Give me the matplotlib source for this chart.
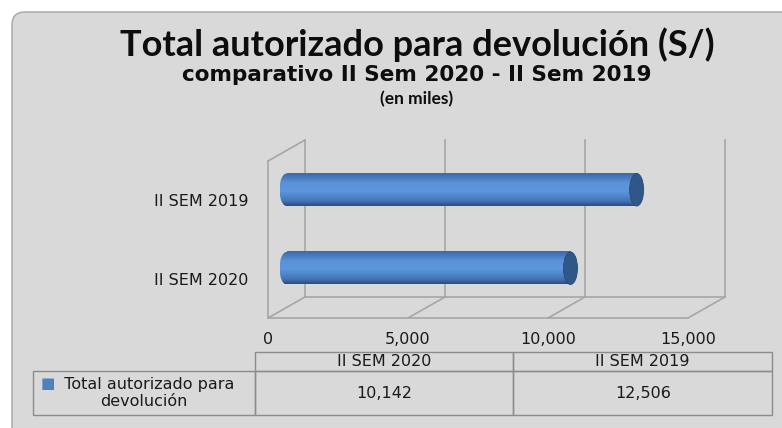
import numpy as np
import matplotlib
matplotlib.use("Agg")
import matplotlib.pyplot as plt
from matplotlib.patches import FancyBboxPatch, Ellipse, ConnectionPatch
from matplotlib.colors import LinearSegmentedColormap
from matplotlib.transforms import ScaledTranslation
from matplotlib.table import Table
from matplotlib.ticker import FuncFormatter

# data
categories = ["II SEM 2020", "II SEM 2019"]
values = [10142, 12506]
series_name = "Total autorizado para\ndevolución"
xticks = [0, 5000, 10000, 15000]

title = "Total autorizado para devolución (S/)"
subtitle = "comparativo II Sem 2020 - II Sem 2019"
subsubtitle = "(en miles)"

W, H, DPI = 782, 428, 100
fig = plt.figure(figsize=(W / DPI, H / DPI), dpi=DPI)
fig.patch.set_facecolor("white")

# background panel, pixel coordinates
bg = fig.add_axes([0, 0, 1, 1], zorder=0)
bg.set_xlim(0, W)
bg.set_ylim(H, 0)
bg.axis("off")
bg.add_patch(FancyBboxPatch((12, 12), 820, 460,
                            boxstyle="round,pad=0,rounding_size=13",
                            facecolor="#d9d9d9", edgecolor="#a3a3a3", lw=1.0))

fig.text(417 / W, 1 - 45 / H, title, ha="center", va="center",
         fontsize=26, fontweight="bold", family="Lato", color="#0d0d0d")
fig.text(417 / W, 1 - 75 / H, subtitle, ha="center", va="center",
         fontsize=15.5, fontweight="bold", family="DejaVu Sans", color="#0d0d0d")
fig.text(417 / W, 1 - 99 / H, subsubtitle, ha="center", va="center",
         fontsize=12.5, fontweight="bold", family="Lato", color="#0d0d0d")

# front plane of the 3d box
ax = fig.add_axes([268 / W, 1 - 318 / H, 420 / W, 157 / H], zorder=2)
ax.set_facecolor("none")
xmax = 15000
ax.set_xlim(0, xmax)
ax.set_ylim(-0.5, len(categories) - 0.5)
for s in ax.spines.values():
    s.set_visible(False)

back = ax.transData + ScaledTranslation(37 / DPI, 21 / DPI, fig.dpi_scale_trans)
mid = ax.transData + ScaledTranslation(18.5 / DPI, 10.5 / DPI, fig.dpi_scale_trans)

gc = "#a6a6a6"
glw = 1.2
y0, y1 = ax.get_ylim()
ax.plot([0, xmax], [y0, y0], color=gc, lw=glw, clip_on=False)
ax.plot([0, xmax], [y0, y0], color=gc, lw=glw, clip_on=False, transform=back)
ax.plot([0, 0], [y0, y1], color=gc, lw=glw, clip_on=False)
for t in xticks:
    ax.plot([t, t], [y0, y1], color=gc, lw=glw, clip_on=False, transform=back)
    ax.add_artist(ConnectionPatch((t, y0), (t, y0), coordsA=ax.transData,
                                  coordsB=back, color=gc, lw=glw))
ax.add_artist(ConnectionPatch((0, y1), (0, y1), coordsA=ax.transData,
                              coordsB=back, color=gc, lw=glw))

# cylinders
cmap = LinearSegmentedColormap.from_list("cyl", [
    (0.0, "#2a4e80"), (0.15, "#4475b7"), (0.45, "#5d96dc"),
    (0.7, "#5b93d9"), (0.88, "#4879bd"), (1.0, "#3b6aa9")])
grad = np.linspace(0, 1, 64).reshape(-1, 1)
bh = 0.414
capw = 500
for i, v in enumerate(values):
    yb, yt = i - bh / 2, i + bh / 2
    ax.imshow(grad, cmap=cmap, extent=(0, v, yb, yt), origin="lower",
              aspect="auto", interpolation="bilinear", transform=mid,
              zorder=3, clip_on=False)
    left = Ellipse((0, i), capw, bh, transform=mid, facecolor="none",
                   edgecolor="none")
    ax.add_patch(left)
    im = ax.imshow(grad, cmap=cmap, extent=(-capw / 2, capw / 2, yb, yt),
                   origin="lower", aspect="auto", interpolation="bilinear",
                   transform=mid, zorder=3)
    im.set_clip_path(left)
    ax.add_patch(Ellipse((v, i), capw, bh, transform=mid, facecolor="#2f5788",
                         edgecolor="#29497a", lw=0.6, zorder=4, clip_on=False))
ax.set_xlim(0, xmax)
ax.set_ylim(y0, y1)

fs = 11.5
ax.set_xticks(xticks)
ax.xaxis.set_major_formatter(FuncFormatter(lambda x, p: f"{x:,.0f}"))
ax.set_yticks(range(len(categories)))
ax.set_yticklabels(categories)
ax.tick_params(axis="x", length=0, pad=10, labelsize=fs, labelcolor="#1a1a1a")
ax.tick_params(axis="y", length=0, pad=14, labelsize=fs, labelcolor="#1a1a1a")

# data table below (bbox covers the value columns, row label sits left)
tb = Table(bg, bbox=[255 / W, 1 - 415 / H, 517 / W, 63 / H])
lw_col, dw_col = 222 / W, 258.5 / W
hh, dh = 19 / H, 44 / H
ec = "#8c8c8c"
for j, c in enumerate(categories):
    tb.add_cell(0, j, dw_col, hh, text=c, loc="center", edgecolor=ec,
                facecolor="none")
    tb.add_cell(1, j, dw_col, dh, text=f"{values[j]:,}", loc="center",
                edgecolor=ec, facecolor="none")
lines = series_name.split("\n")
tb.add_cell(1, -1, lw_col, dh, text="  " + lines[0] + "\n" + lines[1],
            loc="center", edgecolor=ec, facecolor="none")
tb.auto_set_font_size(False)
for c in tb.get_celld().values():
    c.set_linewidth(1.0)
    c.get_text().set_fontsize(fs)
    c.get_text().set_color("#1a1a1a")
tb.set_zorder(5)
bg.add_table(tb)
bg.text(41, 383, "■", color="#4f81bd", fontsize=11, va="center", ha="left",
        zorder=6)

fig.savefig("out.png", dpi=DPI)
